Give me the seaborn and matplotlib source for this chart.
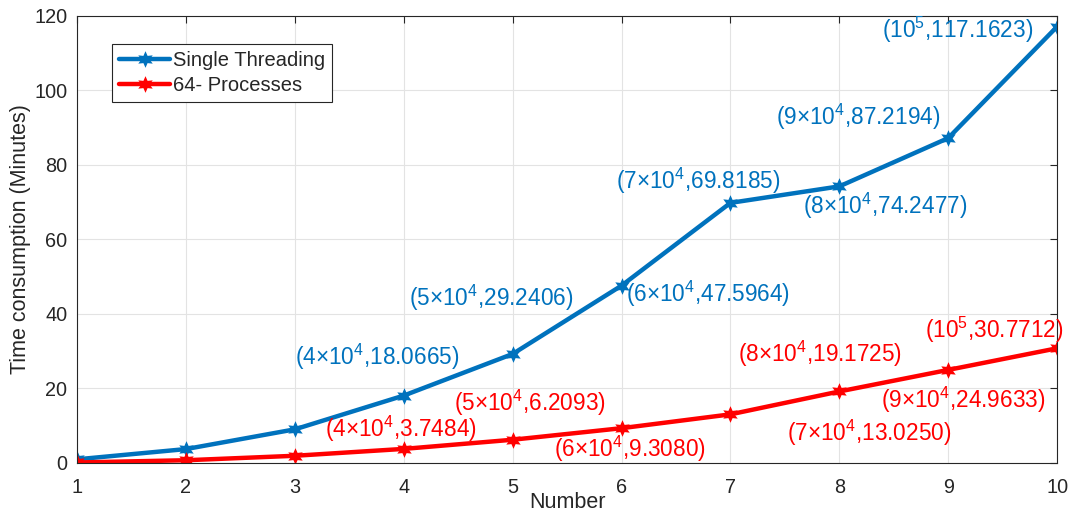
import numpy as np
import pandas as pd
import matplotlib
matplotlib.use('Agg')
import matplotlib.pyplot as plt
import seaborn as sns

number = [1, 2, 3, 4, 5, 6, 7, 8, 9, 10]
single_thread = [0.95, 3.7, 9.0, 18.0665, 29.2406, 47.5964, 69.8185, 74.2477, 87.2194, 117.1623]
processes_64 = [0.1, 0.7, 1.9, 3.7484, 6.2093, 9.3080, 13.0250, 19.1725, 24.9633, 30.7712]

labels_single = [r'(4$\times$10$^4$,18.0665)', r'(5$\times$10$^4$,29.2406)', r'(6$\times$10$^4$,47.5964)',
                 r'(7$\times$10$^4$,69.8185)', r'(8$\times$10$^4$,74.2477)', r'(9$\times$10$^4$,87.2194)',
                 r'(10$^5$,117.1623)']
pos_single = [(3.76, 28.5), (4.8, 44.3), (6.79, 45.4), (6.70, 75.7), (8.42, 69.0), (8.17, 92.9), (9.09, 116.2)]
labels_proc = [r'(4$\times$10$^4$,3.7484)', r'(5$\times$10$^4$,6.2093)', r'(6$\times$10$^4$,9.3080)',
               r'(7$\times$10$^4$,13.0250)', r'(8$\times$10$^4$,19.1725)', r'(9$\times$10$^4$,24.9633)',
               r'(10$^5$,30.7712)']
pos_proc = [(3.97, 9.1), (5.16, 16.1), (6.08, 3.8), (8.27, 8.0), (7.82, 29.3), (9.14, 16.9), (9.42, 35.7)]

blue = '#0072BD'
red = '#FF0000'

sns.set_style('whitegrid')
plt.rcParams['font.family'] = ['Liberation Sans', 'DejaVu Sans']
plt.rcParams['mathtext.fontset'] = 'custom'
plt.rcParams['mathtext.rm'] = 'Liberation Sans'
plt.rcParams['mathtext.it'] = 'Liberation Sans'

df = pd.DataFrame({
    'Number': number * 2,
    'Time': single_thread + processes_64,
    'Method': ['Single Threading'] * 10 + ['64- Processes'] * 10,
})

fig, ax = plt.subplots(figsize=(10.7, 5.16), dpi=100)
fig.subplots_adjust(left=0.072, right=0.988, top=0.969, bottom=0.103)

star = (6, 1, 0)
sns.lineplot(data=df, x='Number', y='Time', hue='Method', palette=[blue, red],
             marker=star, markersize=12, linewidth=3.2, markeredgewidth=0, ax=ax)

for t, (x, y) in zip(labels_single, pos_single):
    ax.text(x, y, t, color=blue, fontsize=16.3, ha='center', va='center')
for t, (x, y) in zip(labels_proc, pos_proc):
    ax.text(x, y, t, color=red, fontsize=16.3, ha='center', va='center')

ax.set_xlim(1, 10)
ax.set_ylim(0, 120)
ax.set_xticks(number)
ax.set_yticks(np.arange(0, 121, 20))
ax.set_xlabel('Number', fontsize=15.5, labelpad=-4, color='#262626')
ax.set_ylabel('Time consumption (Minutes)', fontsize=15.5, labelpad=2, color='#262626')
ax.tick_params(axis='both', labelsize=14.3, direction='in', length=5, top=True, right=True,
               colors='#262626')
ax.tick_params(axis='x', pad=11)
ax.tick_params(axis='y', pad=7)
ax.grid(True, color='#e3e3e3', linewidth=0.8)
for s in ax.spines.values():
    s.set_color('#262626')
    s.set_linewidth(0.8)

leg = ax.legend(loc='upper left', bbox_to_anchor=(0.036, 0.937), fontsize=14.5, frameon=True,
                fancybox=False, edgecolor='#262626', framealpha=1, handlelength=2.5,
                borderpad=0.35, labelspacing=0.3, handletextpad=0.15, borderaxespad=0)
leg.get_frame().set_linewidth(0.8)

fig.savefig('out.png', dpi=100)
